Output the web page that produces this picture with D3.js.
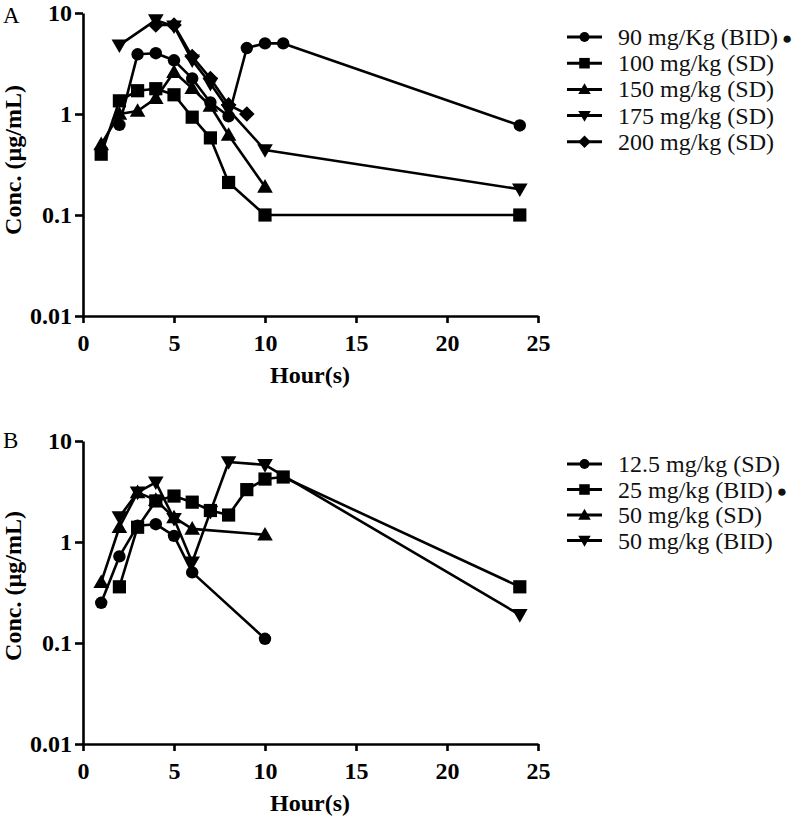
<!DOCTYPE html>
<html>
<head>
<meta charset="utf-8">
<script src="https://cdn.jsdelivr.net/npm/d3@7"></script>
<style>
  html, body { margin: 0; padding: 0; background: #fff; }
  svg { display: block; }
  text { font-family: "Liberation Serif", "Times New Roman", Times, "Nimbus Roman", FreeSerif, serif; }
</style>
</head>
<body>
<svg id="chart" width="800" height="820"></svg>
<script>
// ---------- DATA ----------
const xTicks = [0, 5, 10, 15, 20, 25];
const xTickLabels = ["0", "5", "10", "15", "20", "25"];
const yTicks = [0.01, 0.1, 1, 10];
const yTickLabels = ["0.01", "0.1", "1", "10"];

// Panel A
const namesA = ["90 mg/Kg (BID)", "100 mg/kg (SD)", "150 mg/kg (SD)", "175 mg/kg (SD)", "200 mg/kg (SD)"];
const bulletA = [true, false, false, false, false];
const shapesA = ["circle", "square", "triangle", "triangleDown", "diamond"];
const hoursA90 = [2, 3, 4, 5, 6, 7, 8, 9, 10, 11, 24];
const concA90  = [0.78, 3.9, 4.0, 3.4, 2.25, 1.3, 0.95, 4.5, 5.0, 5.0, 0.77];
const hoursA100 = [1, 2, 3, 4, 5, 6, 7, 8, 10, 24];
const concA100  = [0.40, 1.35, 1.7, 1.78, 1.55, 0.93, 0.58, 0.21, 0.10, 0.10];
const hoursA150 = [1, 2, 3, 4, 5, 6, 7, 8, 10];
const concA150  = [0.50, 1.0, 1.07, 1.43, 2.6, 1.8, 1.2, 0.62, 0.19];
const hoursA175 = [2, 4, 5, 6, 7, 8, 10, 24];
const concA175  = [4.8, 8.5, 7.4, 3.4, 2.0, 1.1, 0.44, 0.18];
const hoursA200 = [4, 5, 6, 7, 8, 9];
const concA200  = [7.6, 7.6, 3.7, 2.25, 1.23, 1.0];

// Panel B
const namesB = ["12.5 mg/kg (SD)", "25 mg/kg (BID)", "50 mg/kg (SD)", "50 mg/kg (BID)"];
const bulletB = [false, true, false, false];
const shapesB = ["circle", "square", "triangle", "triangleDown"];
const hoursB12 = [1, 2, 3, 4, 5, 6, 10];
const concB12  = [0.25, 0.72, 1.45, 1.5, 1.15, 0.5, 0.11];
const hoursB25 = [2, 3, 4, 5, 6, 7, 8, 9, 10, 11, 24];
const concB25  = [0.36, 1.4, 2.55, 2.85, 2.48, 2.05, 1.85, 3.3, 4.2, 4.4, 0.36];
const hoursB50 = [1, 2, 3, 4, 5, 6, 10];
const concB50  = [0.40, 1.4, 3.1, 2.6, 1.75, 1.35, 1.18];
const hoursB50b = [2, 3, 4, 5, 6, 7, 8, 10, 24];
const concB50b  = [1.77, 3.1, 3.9, 1.7, 0.63, 2.0, 6.2, 5.8, 0.19];

// ---------- DRAW ----------
const svg = d3.select("#chart");

function shapePath(type, s) {
  switch (type) {
    case "circle": {
      const r = 6.2 * s;
      return `M${r},0A${r},${r} 0 1,1 ${-r},0A${r},${r} 0 1,1 ${r},0Z`;
    }
    case "square": {
      const h = 6.6 * s;
      return `M${-h},${-h}H${h}V${h}H${-h}Z`;
    }
    case "triangle": {
      const w = 7.8 * s, t = 7.8 * s, b = 5.8 * s;
      return `M0,${-t}L${w},${b}L${-w},${b}Z`;
    }
    case "triangleDown": {
      const w = 7.8 * s, t = 7.8 * s, b = 5.8 * s;
      return `M0,${t}L${w},${-b}L${-w},${-b}Z`;
    }
    case "diamond": {
      const h = 7.8 * s;
      return `M0,${-h}L${h},0L0,${h}L${-h},0Z`;
    }
  }
}

function drawPanel(cfg) {
  const x = d3.scaleLinear().domain([0, 25]).range([83, 538]);
  const y = d3.scaleLog().domain([0.01, 10]).range([cfg.y0, cfg.y1]);
  const g = svg.append("g");

  const xAxis = d3.axisBottom(x).tickValues(xTicks)
    .tickFormat((d, i) => xTickLabels[i]).tickSize(7).tickPadding(11).tickSizeOuter(0);
  const gx = g.append("g").attr("transform", `translate(0,${cfg.y0})`).call(xAxis);
  const yAxis = d3.axisLeft(y).tickValues(yTicks)
    .tickFormat((d, i) => yTickLabels[i]).tickSize(8).tickPadding(3).tickSizeOuter(0);
  const gy = g.append("g").attr("transform", `translate(83,0)`).call(yAxis);
  [gx, gy].forEach(a => {
    a.attr("font-family", null).attr("font-size", null);
    a.select(".domain").attr("stroke", "#000").attr("stroke-width", 2.6);
    a.selectAll(".tick line").attr("stroke", "#000").attr("stroke-width", 2.6);
    a.selectAll(".tick text").attr("fill", "#000")
      .style("font-size", "24px").style("font-weight", "bold");
  });

  g.append("text").attr("x", 310).attr("y", cfg.y0 + 67)
    .attr("text-anchor", "middle")
    .style("font-size", "24px").style("font-weight", "bold")
    .text("Hour(s)");
  g.append("text")
    .attr("transform", `translate(21,${cfg.ylabMid}) rotate(-90)`)
    .attr("text-anchor", "middle")
    .style("font-size", "24px").style("font-weight", "bold")
    .text("Conc. (µg/mL)");
  g.append("text").attr("x", 3).attr("y", cfg.panelY)
    .style("font-size", "23px")
    .text(cfg.panel);

  const line = d3.line().x(d => x(d[0])).y(d => y(d[1]));
  cfg.series.forEach(s => {
    const pts = s.hours.map((h, i) => [h, s.conc[i]]);
    g.append("path").datum(pts).attr("d", line)
      .attr("fill", "none").attr("stroke", "#000").attr("stroke-width", 2.6)
      .attr("stroke-linejoin", "round");
    g.selectAll(null).data(pts).enter().append("path")
      .attr("transform", d => `translate(${x(d[0])},${y(d[1])})`)
      .attr("d", shapePath(s.shape, 1)).attr("fill", "#000");
  });

  cfg.series.forEach((s, i) => {
    const ly = cfg.legY + i * cfg.legStep;
    const lg = g.append("g").attr("transform", `translate(0,${ly})`);
    lg.append("line").attr("x1", 567).attr("x2", 602).attr("y1", 0).attr("y2", 0)
      .attr("stroke", "#000").attr("stroke-width", 3);
    lg.append("path").attr("transform", "translate(584.5,0)")
      .attr("d", shapePath(s.shape, 0.8)).attr("fill", "#000");
    const t = lg.append("text").attr("x", 618).attr("y", 8)
      .style("font-size", "24px").attr("fill", "#111")
      .text(s.name);
    if (s.bullet) {
      t.append("tspan").attr("dx", 4).attr("dy", -1).style("font-size", "17px").text("●");
    }
  });
}

drawPanel({
  y0: 316, y1: 13, ylabMid: 160, panel: "A", panelY: 23, legY: 37, legStep: 26.2,
  series: [
    { name: namesA[0], bullet: bulletA[0], shape: shapesA[0], hours: hoursA90, conc: concA90 },
    { name: namesA[1], bullet: bulletA[1], shape: shapesA[1], hours: hoursA100, conc: concA100 },
    { name: namesA[2], bullet: bulletA[2], shape: shapesA[2], hours: hoursA150, conc: concA150 },
    { name: namesA[3], bullet: bulletA[3], shape: shapesA[3], hours: hoursA175, conc: concA175 },
    { name: namesA[4], bullet: bulletA[4], shape: shapesA[4], hours: hoursA200, conc: concA200 }
  ]
});

drawPanel({
  y0: 744, y1: 441, ylabMid: 586, panel: "B", panelY: 448, legY: 464, legStep: 25.5,
  series: [
    { name: namesB[0], bullet: bulletB[0], shape: shapesB[0], hours: hoursB12, conc: concB12 },
    { name: namesB[1], bullet: bulletB[1], shape: shapesB[1], hours: hoursB25, conc: concB25 },
    { name: namesB[2], bullet: bulletB[2], shape: shapesB[2], hours: hoursB50, conc: concB50 },
    { name: namesB[3], bullet: bulletB[3], shape: shapesB[3], hours: hoursB50b, conc: concB50b }
  ]
});
</script>
</body>
</html>
